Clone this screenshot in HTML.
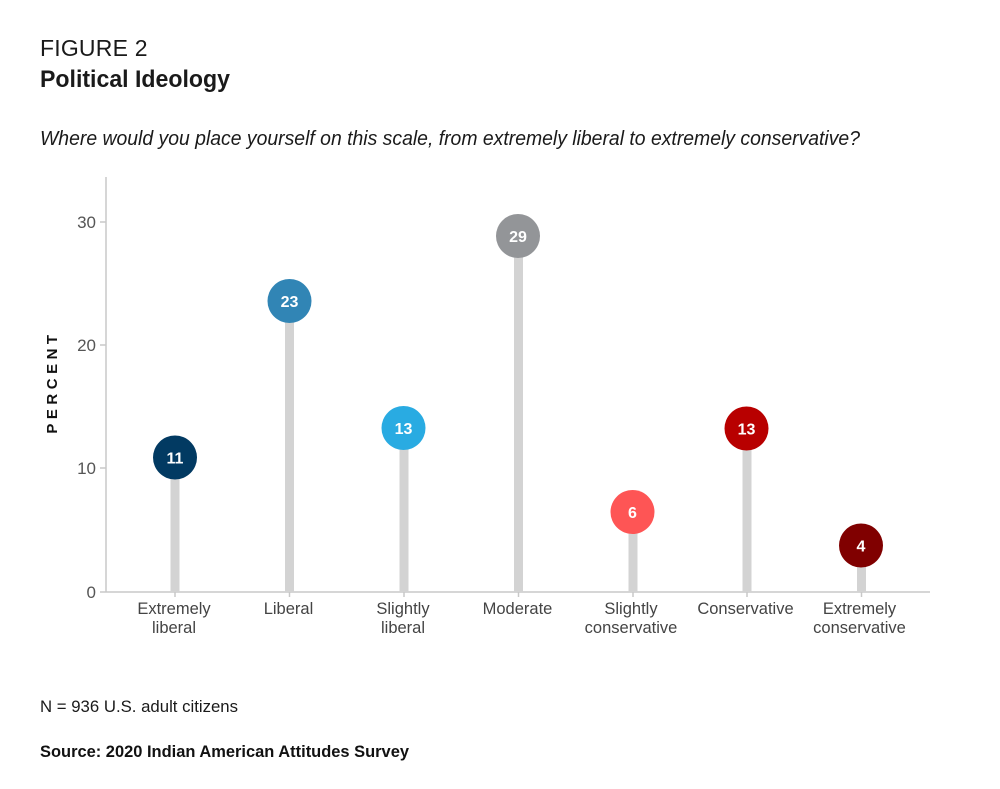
<!DOCTYPE html>
<html>
<head>
<meta charset="utf-8">
<style>
  html,body{margin:0;padding:0;background:#fff;}
  svg{display:block;}
  text{font-family:"Liberation Sans",sans-serif;}
</style>
</head>
<body>
<svg width="1000" height="789" viewBox="0 0 1000 789" xmlns="http://www.w3.org/2000/svg">
  <rect width="1000" height="789" fill="#fff"/>
  <!-- Titles -->
  <text x="40" y="56" font-size="23" fill="#1a1a1a" letter-spacing="2.5" textLength="110" lengthAdjust="spacing">FIGURE 2</text>
  <text x="40" y="87" font-size="24" font-weight="bold" fill="#1a1a1a" textLength="190" lengthAdjust="spacingAndGlyphs">Political Ideology</text>
  <text x="40" y="145" font-size="20.5" font-style="italic" fill="#1a1a1a" textLength="820" lengthAdjust="spacingAndGlyphs">Where would you place yourself on this scale, from extremely liberal to extremely conservative?</text>

  <!-- Axes -->
  <line x1="106" y1="177" x2="106" y2="592" stroke="#c8c8c8" stroke-width="1.5"/>
  <line x1="106" y1="592" x2="930" y2="592" stroke="#c8c8c8" stroke-width="1.5"/>
  <!-- y ticks -->
  <g stroke="#c8c8c8" stroke-width="1.5">
    <line x1="100" y1="222" x2="106" y2="222"/>
    <line x1="100" y1="345" x2="106" y2="345"/>
    <line x1="100" y1="468" x2="106" y2="468"/>
    <line x1="100" y1="592" x2="106" y2="592"/>
  </g>
  <g font-size="17" fill="#555" text-anchor="end">
    <text x="96" y="228">30</text>
    <text x="96" y="351">20</text>
    <text x="96" y="474">10</text>
    <text x="96" y="598">0</text>
  </g>
  <!-- y label -->
  <text transform="translate(57,382) rotate(-90)" text-anchor="middle" font-size="15" font-weight="bold" fill="#111" letter-spacing="4.5">PERCENT</text>

  <!-- x ticks -->
  <g stroke="#c8c8c8" stroke-width="1.5">
    <line x1="175" y1="592" x2="175" y2="597"/>
    <line x1="289.5" y1="592" x2="289.5" y2="597"/>
    <line x1="404" y1="592" x2="404" y2="597"/>
    <line x1="518.5" y1="592" x2="518.5" y2="597"/>
    <line x1="633" y1="592" x2="633" y2="597"/>
    <line x1="747" y1="592" x2="747" y2="597"/>
    <line x1="861.5" y1="592" x2="861.5" y2="597"/>
  </g>

  <!-- stems -->
  <g fill="#d3d3d3">
    <rect x="170.5" y="457" width="9" height="135"/>
    <rect x="285" y="301" width="9" height="291"/>
    <rect x="399.5" y="428" width="9" height="164"/>
    <rect x="514" y="236" width="9" height="356"/>
    <rect x="628.5" y="512" width="9" height="80"/>
    <rect x="742.5" y="429" width="9" height="163"/>
    <rect x="857" y="545" width="9" height="47"/>
  </g>

  <!-- circles -->
  <circle cx="175" cy="457.5" r="22" fill="#023a62"/>
  <circle cx="289.5" cy="301" r="22" fill="#3185b5"/>
  <circle cx="403.5" cy="428" r="22" fill="#29abe2"/>
  <circle cx="518" cy="236" r="22" fill="#939598"/>
  <circle cx="632.5" cy="512" r="22" fill="#fe5555"/>
  <circle cx="746.5" cy="428.5" r="22" fill="#b80000"/>
  <circle cx="861" cy="545.5" r="22" fill="#800000"/>

  <g font-size="16" font-weight="bold" fill="#fff" text-anchor="middle">
    <text x="175" y="463.5">11</text>
    <text x="289.5" y="307">23</text>
    <text x="403.5" y="434">13</text>
    <text x="518" y="242">29</text>
    <text x="632.5" y="518">6</text>
    <text x="746.5" y="434.5">13</text>
    <text x="861" y="551.5">4</text>
  </g>

  <!-- category labels -->
  <g font-size="16.5" fill="#444" text-anchor="middle">
    <text x="174" y="614">Extremely</text>
    <text x="174" y="633">liberal</text>
    <text x="288.5" y="614">Liberal</text>
    <text x="403" y="614">Slightly</text>
    <text x="403" y="633">liberal</text>
    <text x="517.5" y="614">Moderate</text>
    <text x="631" y="614">Slightly</text>
    <text x="631" y="633">conservative</text>
    <text x="745.5" y="614">Conservative</text>
    <text x="859.5" y="614">Extremely</text>
    <text x="859.5" y="633">conservative</text>
  </g>

  <!-- footnotes -->
  <text x="40" y="712" font-size="17" fill="#1a1a1a" textLength="198" lengthAdjust="spacingAndGlyphs">N = 936 U.S. adult citizens</text>
  <text x="40" y="757" font-size="16.5" font-weight="bold" fill="#111" textLength="369" lengthAdjust="spacingAndGlyphs">Source: 2020 Indian American Attitudes Survey</text>
</svg>
</body>
</html>
